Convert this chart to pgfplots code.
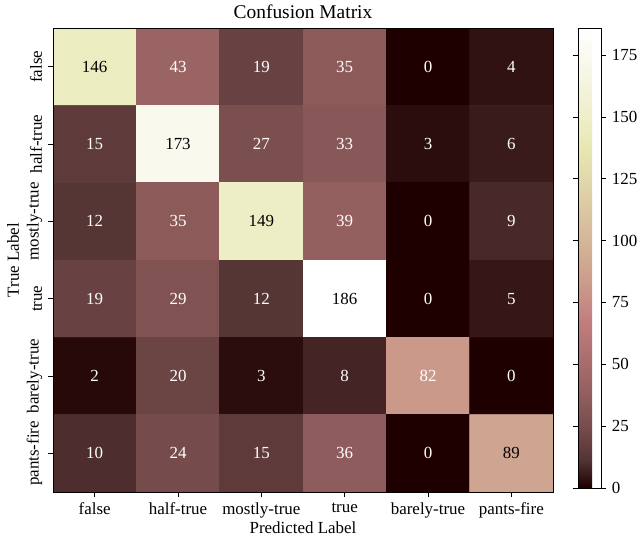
\documentclass[border=0pt]{standalone}
\usepackage{pgfplots}
\pgfplotsset{compat=1.18}
\usepackage{fontspec}
\setmainfont{Liberation Serif}
\pgfplotstableread{
x y c
0 0 146
1 0 43
2 0 19
3 0 35
4 0 0
5 0 4
0 1 15
1 1 173
2 1 27
3 1 33
4 1 3
5 1 6
0 2 12
1 2 35
2 2 149
3 2 39
4 2 0
5 2 9
0 3 19
1 3 29
2 3 12
3 3 186
4 3 0
5 3 5
0 4 2
1 4 20
2 4 3
3 4 8
4 4 82
5 4 0
0 5 10
1 5 24
2 5 15
3 5 36
4 5 0
5 5 89
}\cm
\pgfplotstableread{
x y c
1 0 43
2 0 19
3 0 35
4 0 0
5 0 4
0 1 15
2 1 27
3 1 33
4 1 3
5 1 6
0 2 12
1 2 35
3 2 39
4 2 0
5 2 9
0 3 19
1 3 29
2 3 12
4 3 0
5 3 5
0 4 2
1 4 20
2 4 3
3 4 8
4 4 82
5 4 0
0 5 10
1 5 24
2 5 15
3 5 36
4 5 0
}\lowvals
\pgfplotstableread{
x y c
0 0 146
1 1 173
2 2 149
3 3 186
5 5 89
}\highvals
\begin{document}
\fontsize{17}{20}\selectfont
\begin{tikzpicture}
\path[use as bounding box, fill=white] (0,0) rectangle (639bp,539bp);
\begin{axis}[
  at={(53bp,47bp)}, anchor=south west,
  scale only axis, width=500bp, height=464bp,
  xmin=-0.5, xmax=5.5, ymin=-0.5, ymax=5.5, y dir=reverse,
  xtick={0,...,5}, ytick={0,...,5},
  xticklabels={false,half-true,mostly-true,true,barely-true,pants-fire},
  yticklabels={false,half-true,mostly-true,true,barely-true,pants-fire},
  yticklabel style={rotate=90, anchor=south},
  tick align=outside, xtick pos=lower, ytick pos=left,
  major tick length=5bp, tick style={black, line width=0.8pt},
  axis line style={line width=0.8pt},
  title={Confusion Matrix},
  title style={font=\fontsize{19.5}{22}\selectfont, yshift=-3bp},
  xlabel={Predicted Label}, ylabel={True Label},
  xlabel style={yshift=8bp}, ylabel style={yshift=-4bp},
  colormap={mplpink}{
    rgb(0pt)=(0.118,0,0);
    rgb(62.5pt)=(0.332,0.204,0.204);
    rgb(125pt)=(0.4545,0.2887,0.2887);
    rgb(187.5pt)=(0.5504,0.3536,0.3536);
    rgb(250pt)=(0.6319,0.4082,0.4082);
    rgb(312.5pt)=(0.704,0.456,0.456);
    rgb(365pt)=(0.7594,0.4933,0.4933);
    rgb(437.5pt)=(0.7906,0.596,0.540);
    rgb(500pt)=(0.8165,0.6719,0.5774);
    rgb(562.5pt)=(0.8416,0.740,0.6124);
    rgb(625pt)=(0.8660,0.8026,0.6455);
    rgb(687.5pt)=(0.8898,0.8605,0.677);
    rgb(746pt)=(0.9114,0.9114,0.7052);
    rgb(812.5pt)=(0.9354,0.9354,0.793);
    rgb(875pt)=(0.9574,0.9574,0.8676);
    rgb(937.5pt)=(0.979,0.979,0.936);
    rgb(1000pt)=(1,1,1)
  },
  point meta min=0, point meta max=186,
  colorbar,
  colorbar shift/.style={xshift=25bp},
  colorbar style={
    at={(parent axis.north east)}, anchor=north west,
    scale only axis, width=23bp, height=460bp,
    ytick={0,25,...,175},
    yticklabel style={/pgf/number format/assume math mode=true},
    major tick length=5bp, tick style={black, line width=0.8pt},
    tick align=outside,
    axis line style={line width=0.8pt},
  },
  axis on top,
]
\addplot[matrix plot*, mesh/cols=6, point meta=explicit] table[x=x, y=y, meta=c] {\cm};
\addplot[only marks, mark=none, point meta=explicit symbolic,
  nodes near coords, nodes near coords align=center,
  every node near coord/.append style={white, anchor=center}]
  table[x=x, y=y, meta=c] {\lowvals};
\addplot[only marks, mark=none, point meta=explicit symbolic,
  nodes near coords, nodes near coords align=center,
  every node near coord/.append style={black, anchor=center}]
  table[x=x, y=y, meta=c] {\highvals};
\end{axis}
\end{tikzpicture}
\end{document}
